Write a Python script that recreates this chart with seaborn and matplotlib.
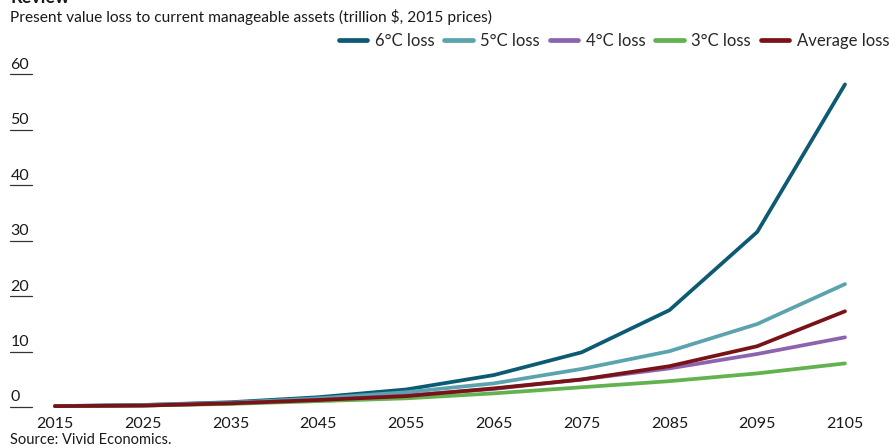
import pandas as pd
import matplotlib
matplotlib.use("Agg")
import matplotlib.pyplot as plt
import matplotlib.transforms as mtransforms
from matplotlib.lines import Line2D
import seaborn as sns

# === data ===
years = [2015, 2025, 2035, 2045, 2055, 2065, 2075, 2085, 2095, 2105]
loss_6c = [0.2, 0.4, 0.9, 1.8, 3.2, 5.8, 9.9, 17.5, 31.6, 58.2]
loss_5c = [0.2, 0.4, 0.8, 1.6, 2.7, 4.3, 6.9, 10.1, 15.0, 22.2]
loss_4c = [0.2, 0.3, 0.7, 1.3, 2.1, 3.3, 5.0, 7.0, 9.6, 12.6]
loss_3c = [0.2, 0.3, 0.6, 1.1, 1.6, 2.5, 3.6, 4.7, 6.1, 7.9]
loss_avg = [0.2, 0.3, 0.7, 1.3, 2.0, 3.4, 5.0, 7.4, 11.0, 17.3]
series_names = ["6°C loss", "5°C loss", "4°C loss", "3°C loss", "Average loss"]
colors = ["#0d5a73", "#5ba3ad", "#8b64ad", "#62b24f", "#7a1317"]
y_ticks = [0, 10, 20, 30, 40, 50, 60]

# long-form table for seaborn
frames = []
for name, vals in zip(series_names, [loss_6c, loss_5c, loss_4c, loss_3c, loss_avg]):
    frames.append(pd.DataFrame({"Year": years, "Loss": vals, "Series": name}))
df = pd.concat(frames, ignore_index=True)

sns.set_style("white")
plt.rcParams["font.family"] = ["Lato", "DejaVu Sans"]

W, H = 889, 448
fig = plt.figure(figsize=(W / 100, H / 100), dpi=100)
ax = fig.add_axes([10 / W, 1 - 410 / H, 860 / W, 350 / H])

sns.lineplot(data=df, x="Year", y="Loss", hue="Series", hue_order=series_names,
             palette=colors, linewidth=2.7, legend=False, ax=ax,
             solid_capstyle="round", solid_joinstyle="round")

ax.set_xlim(2009.87, 2107.85)
ax.set_ylim(-0.5, 62.6)
for s in ax.spines.values():
    s.set_visible(False)
ax.set_xlabel("")
ax.set_ylabel("")
ax.set_yticks([])
ax.set_xticks(years)
ax.tick_params(axis="x", length=0, pad=5, labelsize=11.5, labelcolor="#1a1a1a")

# y tick labels sit on short underline marks at the left edge
trans = mtransforms.blended_transform_factory(ax.transAxes, ax.transData)
for t in y_ticks:
    ax.plot([0, 22 / 860], [t, t], color="#333333", lw=0.9, transform=trans,
            clip_on=False)
    ax.text(0.5 / 860, t + 0.5, str(t), transform=trans, ha="left", va="bottom",
            fontsize=11.5, color="#1a1a1a")

# legend row
handles = [Line2D([0], [0], color=c, lw=3.4, solid_capstyle="round") for c in colors]
fig.legend(handles, series_names, loc="upper right", bbox_to_anchor=(1.0, 1 - 33 / H),
           ncol=5, frameon=False, fontsize=12, handlelength=1.7, handletextpad=0.45,
           columnspacing=0.6, borderaxespad=0, borderpad=0)

# titles and source
fig.text(10 / W, 1 - 3 / H, "Review", fontsize=13, fontweight="bold", va="baseline",
         ha="left", color="#1a1a1a")
fig.text(10 / W, 1 - 17 / H, "Present value loss to current manageable assets (trillion $, 2015 prices)",
         fontsize=11.2, va="center", ha="left", color="#1a1a1a")
fig.text(10 / W, 1 - 440 / H, "Source: Vivid Economics.", fontsize=10.5, va="center",
         ha="left", color="#1a1a1a")

fig.savefig("out.png", dpi=100)
